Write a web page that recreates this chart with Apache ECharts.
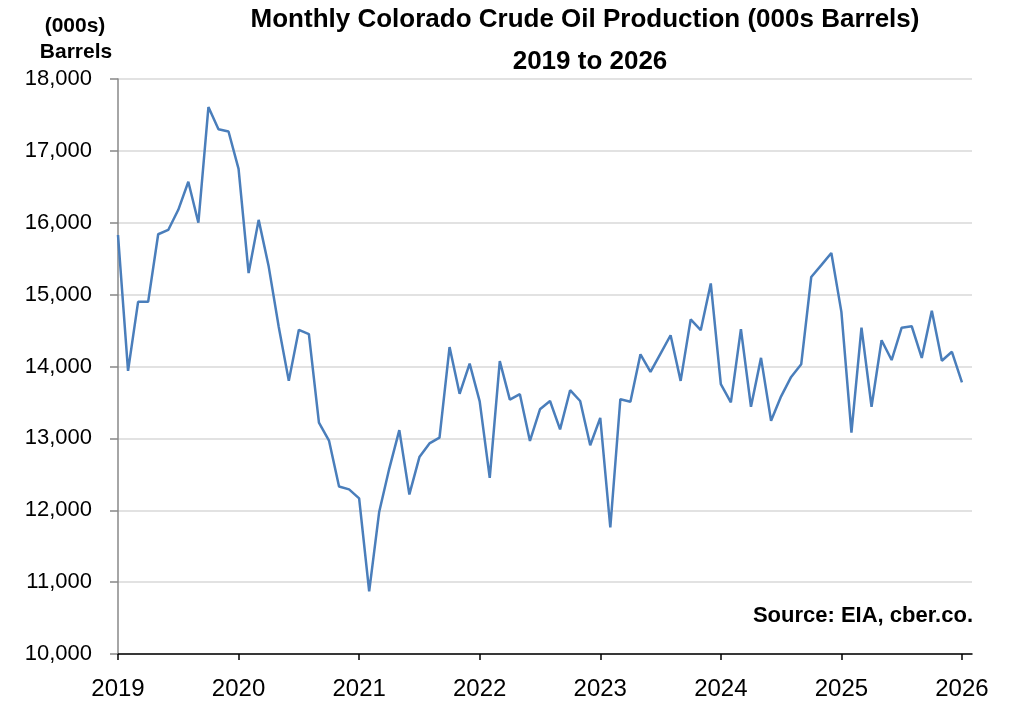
<!DOCTYPE html>
<html>
<head>
<meta charset="utf-8">
<title>Monthly Colorado Crude Oil Production</title>
<script src="https://cdn.jsdelivr.net/npm/echarts@6/dist/echarts.min.js"></script>
<style>
  html, body { margin: 0; padding: 0; background: #fff; }
  #chart { width: 1012px; height: 704px; }
</style>
</head>
<body>
<div id="chart"></div>
<script>
// monthly production, thousands of barrels (Jan..Dec)
const years = [2019, 2020, 2021, 2022, 2023, 2024, 2025, 2026];
const prod2019 = [15830, 13940, 14900, 14900, 15840, 15900, 16180, 16570, 16000, 17610, 17300, 17270];
const prod2020 = [16750, 15300, 16040, 15390, 14550, 13800, 14510, 14450, 13220, 12970, 12330, 12290];
const prod2021 = [12165, 10870, 11980, 12580, 13115, 12220, 12740, 12930, 13010, 14270, 13620, 14040];
const prod2022 = [13515, 12450, 14075, 13540, 13615, 12965, 13405, 13520, 13125, 13670, 13520, 12905];
const prod2023 = [13285, 11760, 13545, 13510, 14170, 13925, 14180, 14435, 13800, 14655, 14505, 15155];
const prod2024 = [13755, 13500, 14520, 13440, 14120, 13245, 13585, 13855, 14030, 15245, 15410, 15580];
const prod2025 = [14760, 13080, 14540, 13440, 14365, 14090, 14540, 14560, 14120, 14775, 14080, 14205];
const prod2026 = [13780];

const yTicks = { min: 10000, max: 18000, step: 1000 };

const production = [].concat(prod2019, prod2020, prod2021, prod2022, prod2023, prod2024, prod2025, prod2026);

// one category per month, plus one empty month at the end so the axis runs past 2026
const months = [];
years.forEach(function (y) {
  for (let m = 1; m <= 12; m++) {
    if (months.length < production.length + 1) {
      months.push(y + '-' + (m < 10 ? '0' + m : m));
    }
  }
});

const font = "'Liberation Sans', Arial, sans-serif";
const isJan = function (index) { return index % 12 === 0; };

function boldText(str, x, y, size, align) {
  return {
    type: 'text',
    x: x,
    y: y,
    style: {
      text: str,
      fontFamily: font,
      fontSize: size,
      fontWeight: 'bold',
      fill: '#000',
      textAlign: align || 'center',
      textVerticalAlign: 'middle'
    }
  };
}

const chart = echarts.init(document.getElementById('chart'));

const option = {
  animation: false,
  backgroundColor: '#fff',
  textStyle: { fontFamily: font },
  graphic: [
    boldText('Monthly Colorado Crude Oil Production (000s Barrels)', 585, 20, 26),
    boldText('2019 to 2026', 590, 62, 26),
    boldText('(000s)', 75, 26, 21),
    boldText('Barrels', 76, 52, 21),
    boldText('Source: EIA, cber.co.', 973, 616, 22, 'right')
  ],
  grid: { left: 118, right: 40, top: 79, bottom: 50, containLabel: false },
  xAxis: {
    type: 'category',
    data: months,
    boundaryGap: false,
    axisLine: { lineStyle: { color: '#000', width: 1.5 } },
    axisTick: { interval: isJan, length: 6, lineStyle: { color: '#000', width: 1.5 } },
    axisLabel: {
      interval: isJan,
      formatter: function (v) { return v.slice(0, 4); },
      fontFamily: font,
      fontSize: 24,
      color: '#000',
      margin: 23
    },
    splitLine: { show: false }
  },
  yAxis: {
    type: 'value',
    min: yTicks.min,
    max: yTicks.max,
    interval: yTicks.step,
    axisLine: { show: true, lineStyle: { color: '#888', width: 1.5 } },
    axisTick: { show: true, length: 8, lineStyle: { color: '#888', width: 1.5 } },
    axisLabel: {
      fontFamily: font,
      fontSize: 22,
      color: '#000',
      margin: 26,
      formatter: function (v) { return String(v).replace(/\B(?=(\d{3})+(?!\d))/g, ','); }
    },
    splitLine: { lineStyle: { color: '#d9d9d9', width: 1.5 } }
  },
  series: [
    {
      type: 'line',
      data: production,
      symbol: 'none',
      lineStyle: { color: '#4a7ebb', width: 2.5 }
    }
  ]
};

chart.setOption(option);
</script>
</body>
</html>
